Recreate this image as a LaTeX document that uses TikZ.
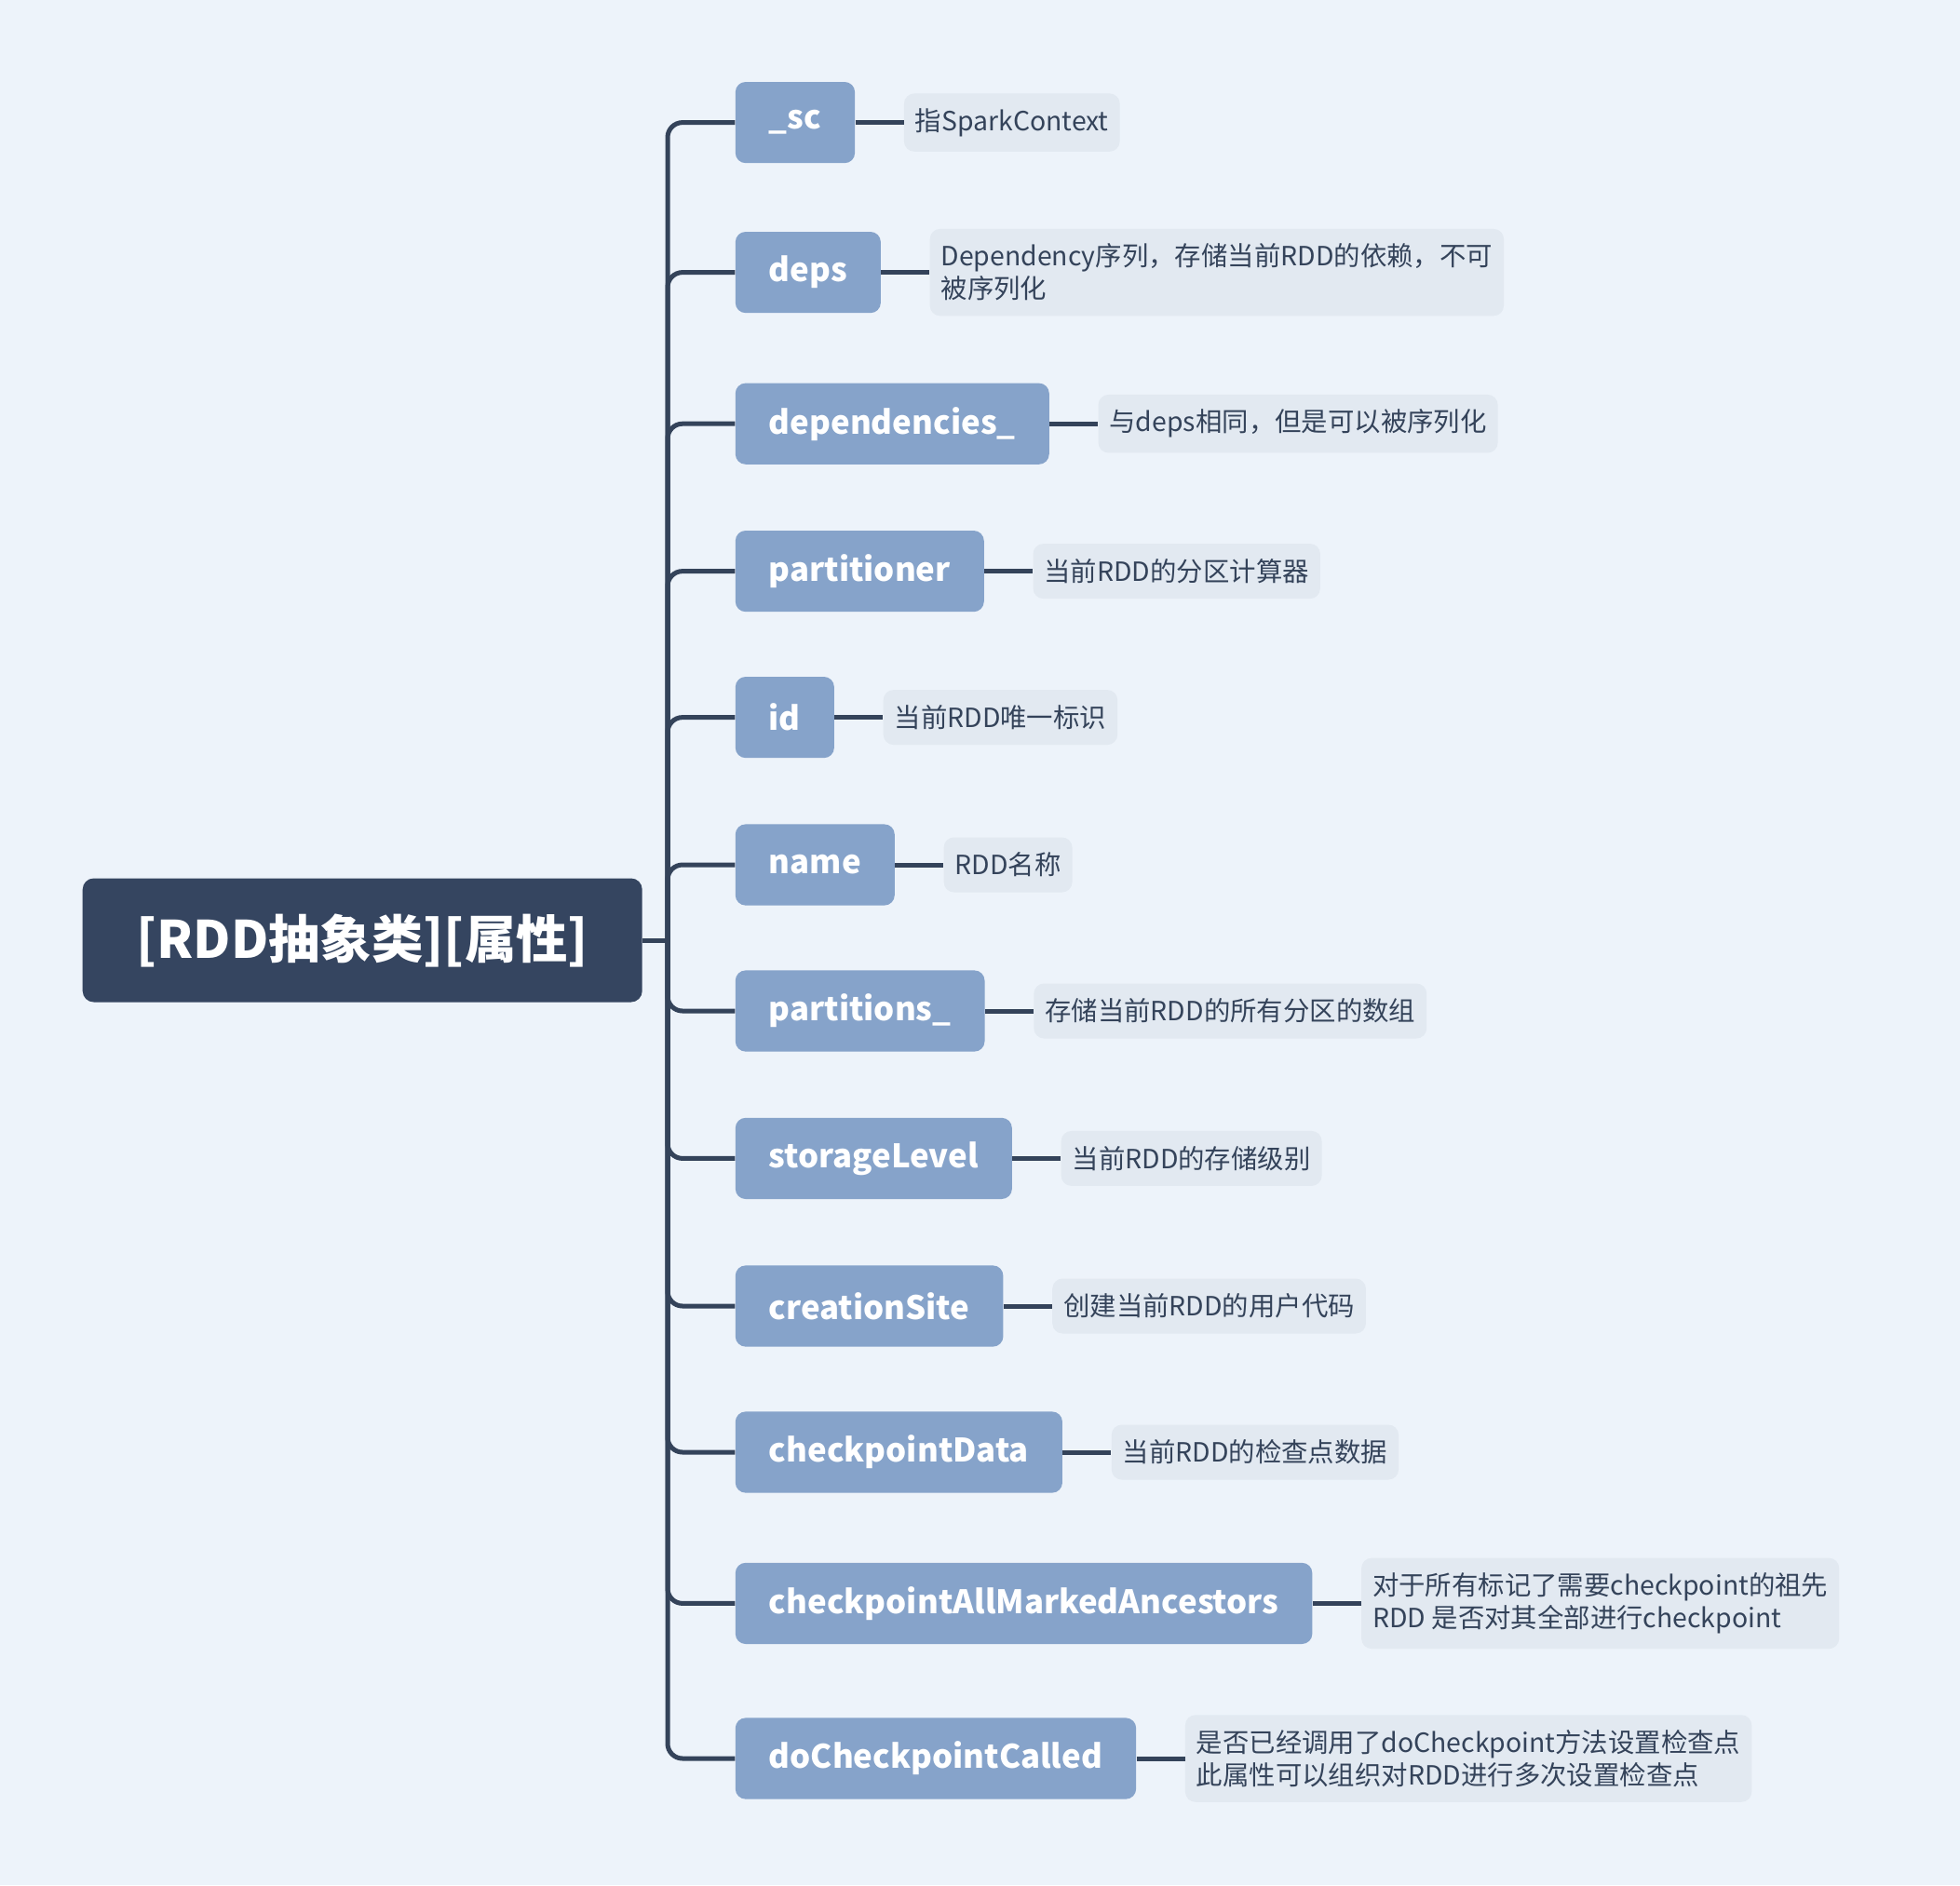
\documentclass[tikz,border=0pt]{standalone}
\usepackage{fontspec}
\setmainfont{Noto Sans CJK SC}
\usepackage{xcolor}
\usepackage{tikz}
\usetikzlibrary{positioning}
\definecolor{bgblue}{HTML}{EDF3FA}
\definecolor{rootblue}{HTML}{354560}
\definecolor{attrblue}{HTML}{86A3CA}
\definecolor{notegrey}{HTML}{E2E9F1}
\definecolor{inkblue}{HTML}{34435A}
\tikzstyle{root} = [rectangle, rounded corners=6pt, fill=rootblue, text=white, minimum width=300.5pt, minimum height=66.5pt, font=\fontsize{27.7}{33}\selectfont\bfseries]
\tikzstyle{attr} = [rectangle, rounded corners=5.5pt, fill=attrblue, text=white, minimum height=43.6pt, inner xsep=18pt, anchor=west, font=\fontsize{17.4}{22}\selectfont\bfseries]
\tikzstyle{note} = [rectangle, rounded corners=5.5pt, fill=notegrey, text=inkblue, minimum height=29.5pt, inner xsep=6pt, inner ysep=8pt, align=left, font=\fontsize{14.2}{17.5}\selectfont]
\tikzstyle{branch} = [line width=2.5pt, draw=inkblue, rounded corners=8pt]

\begin{document}
\begin{tikzpicture}[x=1pt, y=-1pt, node distance=26pt]
	\fill[bgblue] (0,0) rectangle (1052.5,1012.5);
	\useasboundingbox (0,0) rectangle (1052.5,1012.5);
	\node (rdd) [root] at (194.6,505) {[RDD抽象类][属性]};
	\coordinate (hub) at (358.5,505);
	\node (sc) [attr] at (394.7,65.8) {\_sc};
	\node (deps) [attr] at (394.7,146.3) {deps};
	\node (dependencies) [attr] at (394.7,227.6) {dependencies\_};
	\node (partitioner) [attr] at (394.7,306.8) {partitioner};
	\node (id) [attr] at (394.7,385.3) {id};
	\node (name) [attr] at (394.7,464.5) {name};
	\node (partitions) [attr] at (394.7,543.0) {partitions\_};
	\node (storage) [attr] at (394.7,622.2) {storageLevel};
	\node (creation) [attr] at (394.7,701.5) {creationSite};
	\node (ckdata) [attr] at (394.7,780.0) {checkpointData};
	\node (ckall) [attr] at (394.7,861.2) {checkpointAllMarkedAncestors};
	\node (docalled) [attr] at (394.7,944.5) {doCheckpointCalled};
	\node (nsc) [note, right=of sc] {指SparkContext};
	\node (ndeps) [note, right=of deps] {Dependency序列，存储当前RDD的依赖，不可\\被序列化};
	\node (ndependencies) [note, right=of dependencies] {与deps相同，但是可以被序列化};
	\node (npartitioner) [note, right=of partitioner] {当前RDD的分区计算器};
	\node (nid) [note, right=of id] {当前RDD唯一标识};
	\node (nname) [note, right=of name] {RDD名称};
	\node (npartitions) [note, right=of partitions] {存储当前RDD的所有分区的数组};
	\node (nstorage) [note, right=of storage] {当前RDD的存储级别};
	\node (ncreation) [note, right=of creation] {创建当前RDD的用户代码};
	\node (nckdata) [note, right=of ckdata] {当前RDD的检查点数据};
	\node (nckall) [note, right=of ckall] {对于所有标记了需要checkpoint的祖先\\RDD 是否对其全部进行checkpoint};
	\node (ndocalled) [note, right=of docalled] {是否已经调用了doCheckpoint方法设置检查点\\此属性可以组织对RDD进行多次设置检查点};
	\draw [branch] (rdd.east) -- (hub);
	\draw [branch] (hub) |- (sc.west);
	\draw [branch] (hub) |- (deps.west);
	\draw [branch] (hub) |- (dependencies.west);
	\draw [branch] (hub) |- (partitioner.west);
	\draw [branch] (hub) |- (id.west);
	\draw [branch] (hub) |- (name.west);
	\draw [branch] (hub) |- (partitions.west);
	\draw [branch] (hub) |- (storage.west);
	\draw [branch] (hub) |- (creation.west);
	\draw [branch] (hub) |- (ckdata.west);
	\draw [branch] (hub) |- (ckall.west);
	\draw [branch] (hub) |- (docalled.west);
	\draw [branch] (sc) -- (nsc);
	\draw [branch] (deps) -- (ndeps);
	\draw [branch] (dependencies) -- (ndependencies);
	\draw [branch] (partitioner) -- (npartitioner);
	\draw [branch] (id) -- (nid);
	\draw [branch] (name) -- (nname);
	\draw [branch] (partitions) -- (npartitions);
	\draw [branch] (storage) -- (nstorage);
	\draw [branch] (creation) -- (ncreation);
	\draw [branch] (ckdata) -- (nckdata);
	\draw [branch] (ckall) -- (nckall);
	\draw [branch] (docalled) -- (ndocalled);
\end{tikzpicture}
\end{document}
